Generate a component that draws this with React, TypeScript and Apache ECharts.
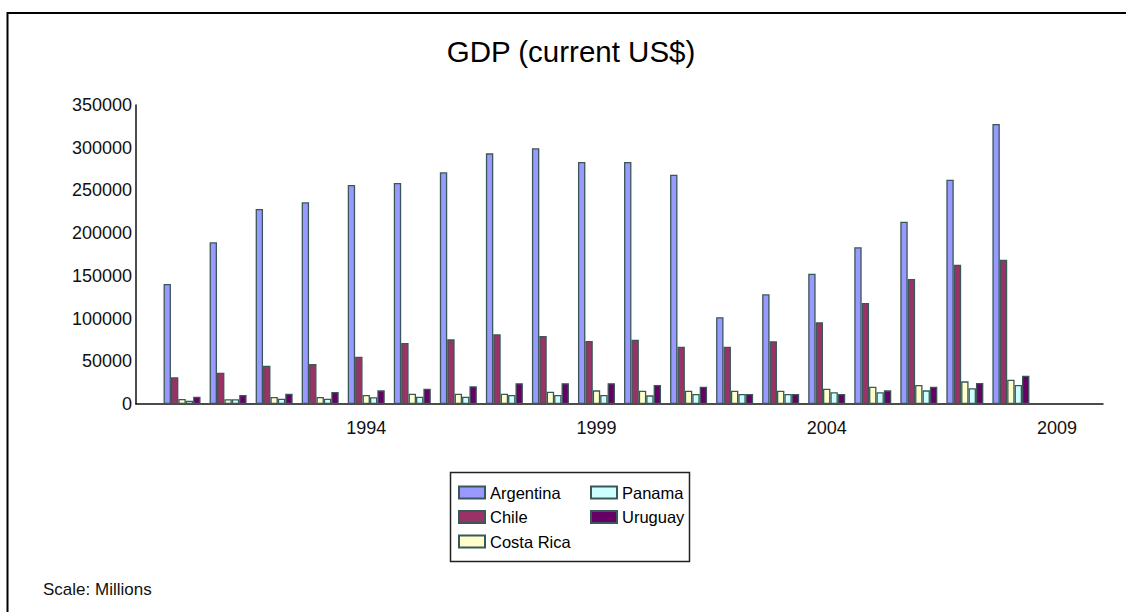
import React, { useEffect, useRef } from "react";
import * as echarts from "echarts";

const years = [
  "1989", "1990", "1991", "1992", "1993", "1994", "1995", "1996", "1997", "1998", "1999",
  "2000", "2001", "2002", "2003", "2004", "2005", "2006", "2007", "2008", "2009", "2010",
];
const labeledYears = ["1994", "1999", "2004", "2009"];

// values in millions of current US$, 1990..2008 (null where no bar)
const argentina = [null, 140500, 189300, 228300, 236100, 256400, 258700, 271200, 293400, 299300, 283300, 283300, 268400, 101500, 128400, 152500, 183400, 213400, 262600, 327800, null, null];
const chile = [null, 31250, 36650, 44850, 46800, 55400, 71400, 75700, 81600, 79600, 73700, 75300, 67100, 67100, 73400, 95600, 118200, 146300, 163100, 168900, null, null];
const costaRica = [null, 5850, 5500, 8200, 8200, 10500, 12100, 12100, 12100, 14400, 16000, 15600, 15600, 15600, 15600, 17900, 20300, 22200, 26500, 28500, null, null];
const panama = [null, 3900, 5500, 6200, 6200, 8000, 8550, 8550, 10500, 10500, 10500, 10150, 11700, 11700, 11700, 13700, 13700, 16000, 18350, 22200, null, null];
const uruguay = [null, 8550, 10500, 12100, 14000, 16000, 17900, 20700, 24400, 24400, 24400, 22200, 20300, 11700, 11700, 11700, 16000, 20300, 24600, 33200, null, null];

const seriesNames = ["Argentina", "Chile", "Costa Rica", "Panama", "Uruguay"];
const seriesData = [argentina, chile, costaRica, panama, uruguay];
const seriesColors = ["#9999FF", "#993366", "#FFFFCC", "#CCFFFF", "#660066"];

const FONT = "'Liberation Sans', Arial, sans-serif";

export default function App() {
  const ref = useRef<HTMLDivElement>(null);

  useEffect(() => {
    document.body.style.margin = "0";
    const chart = echarts.init(ref.current!, null, { renderer: "svg" });
    const legendCommon = {
      orient: "vertical",
      top: 484,
      itemWidth: 26,
      itemHeight: 12,
      itemGap: 7.5,
      padding: 0,
      icon: "rect",
      textStyle: { fontSize: 16.5, color: "#000", fontFamily: FONT },
    };
    chart.setOption({
      animation: false,
      backgroundColor: "#ffffff",
      textStyle: { fontFamily: FONT },
      title: {
        text: "GDP (current US$)",
        left: 566,
        top: 31,
        textAlign: "center",
        textStyle: { fontSize: 29.5, fontWeight: "normal", color: "#000", fontFamily: FONT },
      },
      legend: [
        { ...legendCommon, data: seriesNames.slice(0, 3), left: 458 },
        { ...legendCommon, data: seriesNames.slice(3), left: 590 },
      ],
      grid: { left: 136, right: 23, top: 105, bottom: 208, containLabel: false },
      xAxis: {
        type: "category",
        data: years,
        boundaryGap: false,
        axisLine: { lineStyle: { color: "#111", width: 1.5 } },
        axisTick: { show: false },
        splitLine: { show: false },
        axisLabel: {
          interval: (_i: number, v: string) => labeledYears.includes(v),
          margin: 15,
          fontSize: 18,
          color: "#111",
          fontFamily: FONT,
        },
      },
      yAxis: {
        type: "value",
        min: 0,
        max: 350000,
        interval: 50000,
        axisLine: { show: true, lineStyle: { color: "#111", width: 1.5 } },
        axisTick: { show: false },
        splitLine: { show: false },
        axisLabel: {
          fontSize: 18,
          color: "#111",
          margin: 4,
          fontFamily: FONT,
          formatter: (v: number) => String(v),
        },
      },
      series: seriesNames.map((name, i) => ({
        name,
        type: "bar",
        data: seriesData[i],
        barWidth: 7.4,
        barGap: "0%",
        itemStyle: { color: seriesColors[i], borderColor: "#3a5858", borderWidth: 1.3 },
      })),
      graphic: [
        {
          type: "rect",
          shape: { x: 7.5, y: 13, width: 1200, height: 700 },
          style: { fill: "none", stroke: "#000", lineWidth: 2 },
          silent: true,
        },
        {
          type: "rect",
          shape: { x: 450.5, y: 472.5, width: 239, height: 89 },
          style: { fill: "none", stroke: "#222", lineWidth: 1.5 },
          silent: true,
        },
        {
          type: "text",
          left: 43,
          top: 581,
          style: { text: "Scale: Millions", fontSize: 17, fill: "#111", fontFamily: FONT },
        },
      ],
    });
    return () => chart.dispose();
  }, []);

  return (
    <div
      ref={ref}
      style={{ position: "fixed", left: 0, top: 0, width: 1126, height: 612 }}
    />
  );
}
